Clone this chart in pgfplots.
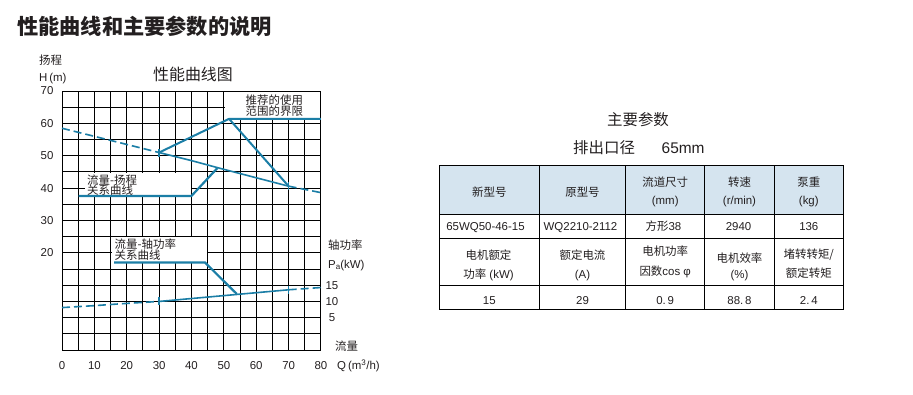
\documentclass[border=0pt]{standalone}
\usepackage{pgfplots}
\pgfplotsset{compat=1.18}
\usepackage{fontspec}
\setmainfont{Liberation Sans}
\newfontfamily\cjk{Noto Sans CJK SC}
\newcommand\zh[1]{{\cjk #1}}
\definecolor{txt}{HTML}{231F20}
\definecolor{lc}{HTML}{1B7EA6}
\definecolor{hdr}{HTML}{D5E4EF}
\begin{document}
\begin{tikzpicture}[x=1bp,y=1bp,
  tt/.style={anchor=base, inner sep=0, font=\fontsize{11.5}{12}\selectfont, text=txt},
  lt/.style={anchor=base west, inner sep=0, font=\fontsize{11.5}{12}\selectfont, text=txt}]
\path[use as bounding box] (0,0) rectangle (913,394);
\coordinate (A) at (62,44);
% ---------------- head axis ----------------
\begin{axis}[at={(A)}, anchor=south west, scale only axis,
  width=259bp, height=259bp,
  xmin=0, xmax=80, ymin=-10, ymax=70,
  xtick={0,10,...,80}, minor xtick={5,15,...,75},
  ytick={-10,0,...,70}, yticklabels={,,,20,30,40,50,60,70},
  minor ytick={-5,5,...,65},
  grid=both, grid style={black, line width=1bp},
  minor grid style={black, line width=1bp},
  major tick length=0, minor tick length=0,
  axis line style={black, line width=1bp},
  /pgf/number format/assume math mode=true,
  tick label style={font=\fontsize{11.5}{12}\selectfont, text=txt},
  xticklabel style={yshift=-8bp},
  yticklabel style={xshift=-5bp},
  clip=false]
% white label boxes
\fill[white] (axis cs:50.4,61.8) rectangle (axis cs:79.8,69.8);
\fill[white] (axis cs:7.2,37.9) rectangle (axis cs:40,44.8);
\fill[white] (axis cs:15.3,17.2) rectangle (axis cs:44.7,24.8);
% head curve
\addplot[lc, line width=1.6bp, dash pattern=on 8bp off 4bp] coordinates {(0,58.5) (10,56.0) (20,53.5) (30,51.0)};
\addplot[lc, line width=1.6bp] coordinates {(30,51.0) (40,48.5) (50,45.8) (60,43.2) (70,40.6)};
\addplot[lc, line width=1.6bp, dash pattern=on 8bp off 4bp] coordinates {(70,40.6) (80,38.6)};
\addplot[lc, only marks, mark=|, mark size=4bp, mark options={line width=1.3bp}] coordinates {(30,51.0) (70,40.6)};
% recommended range
\addplot[lc, line width=2bp] coordinates {(30,51.0) (51.6,61.4) (80,61.4)};
\addplot[lc, line width=2bp] coordinates {(51.6,61.4) (70,40.6)};
% head callout
\addplot[lc, line width=2.2bp] coordinates {(5.1,37.6) (40.0,37.6) (48.0,46.2)};
\end{axis}
% ---------------- power axis ----------------
\begin{axis}[at={(A)}, anchor=south west, scale only axis,
  width=259bp, height=259bp,
  xmin=0, xmax=80, ymin=-5, ymax=75,
  axis x line=none, axis y line*=right,
  y axis line style={draw=none},
  ytick={5,10,15}, major tick length=0,
  /pgf/number format/assume math mode=true,
  yticklabel style={font=\fontsize{11.5}{12}\selectfont, text=txt, anchor=center, xshift=11bp},
  clip=false]
\addplot[lc, line width=1.6bp, dash pattern=on 8bp off 4bp] coordinates {(0,8.1) (10,8.7) (20,9.4) (30,10.0)};
\addplot[lc, line width=1.6bp] coordinates {(30,10.0) (40,10.9) (50,11.8) (60,12.7) (70,13.6)};
\addplot[lc, line width=1.6bp, dash pattern=on 8bp off 4bp] coordinates {(70,13.6) (80,14.3)};
\addplot[lc, only marks, mark=|, mark size=4bp, mark options={line width=1.3bp}] coordinates {(30,10.0) (70,13.6)};
\addplot[lc, line width=2.2bp] coordinates {(16.1,22) (44.2,22) (54,12.3)};
\end{axis}
% ---------------- texts ----------------
\node[anchor=base west, inner sep=0, text=txt, font=\fontsize{21.3}{22}\selectfont] at (17,359.5) {\cjk\bfseries 性能曲线和主要参数的说明};
\node[lt] at (39,330) {\zh{扬程}};
\node[lt] at (39,313) {H\,(m)};
\node[anchor=base, inner sep=0, text=txt, font=\fontsize{16}{16}\selectfont] at (193,313.5) {\zh{性能曲线图}};
\node[lt] at (245.5,290) {\zh{推荐的使用}};
\node[lt] at (245.5,279) {\zh{范围的界限}};
\node[lt] at (87,209.5) {\zh{流量-扬程}};
\node[lt] at (87,199.5) {\zh{关系曲线}};
\node[lt] at (114.5,145.5) {\zh{流量-轴功率}};
\node[lt] at (114.5,135) {\zh{关系曲线}};
\node[lt] at (328,145) {\zh{轴功率}};
\node[lt] at (328,126) {P\raisebox{-1bp}{\fontsize{8}{8}\selectfont a}(kW)};
\node[lt] at (335,44) {\zh{流量}};
\node[lt] at (337,24.5) {Q\,(m\textsuperscript{3}/h)};
% ---------------- table ----------------
\node[anchor=base, inner sep=0, text=txt, font=\fontsize{15.5}{16}\selectfont] at (638,268.5) {\zh{主要参数}};
\node[anchor=base west, inner sep=0, text=txt, font=\fontsize{15.5}{16}\selectfont] at (573,240.5) {\zh{排出口径}};
\node[anchor=base west, inner sep=0, text=txt, font=\fontsize{15.5}{16}\selectfont] at (661.5,240.5) {65mm};
\fill[hdr] (439.3,229) rectangle (843.3,179.7);
\draw[black, line width=1bp] (439.3,229) rectangle (843.3,84.7);
\foreach \yy in {179.7,155.7,108.3} \draw[black, line width=1bp] (439.3,\yy) -- (843.3,\yy);
\foreach \xx in {539.3,625.7,704.7,774.3} \draw[black, line width=1bp] (\xx,229) -- (\xx,84.7);
% header
\node[tt] at (489.3,197.1) {\zh{新型号}};
\node[tt] at (582.5,197.1) {\zh{原型号}};
\node[tt] at (665.2,207.1) {\zh{流道尺寸}};
\node[tt] at (665.2,189.1) {(mm)};
\node[tt] at (739.5,207.1) {\zh{转速}};
\node[tt] at (739.5,189.1) {(r/min)};
\node[tt] at (808.8,207.1) {\zh{泵重}};
\node[tt] at (808.8,189.1) {(kg)};
% row 2
\node[tt] at (485.5,163.1) {65WQ50-46-15};
\node[tt] at (580.5,163.1) {WQ2210-2112};
\node[tt] at (663.5,163.1) {\zh{方形}38};
\node[tt] at (738.5,163.1) {2940};
\node[tt] at (808.8,163.1) {136};
% row 3
\node[tt] at (488.5,134.8) {\zh{电机额定}};
\node[tt] at (488.5,115.8) {\zh{功率} (kW)};
\node[tt] at (582.5,134.8) {\zh{额定电流}};
\node[tt] at (582.5,115.8) {(A)};
\node[tt] at (665.2,138.1) {\zh{电机功率}};
\node[tt] at (665.2,118.1) {\zh{因数}cos φ};
\node[tt] at (739.5,131.8) {\zh{电机效率}};
\node[tt] at (739.5,115.8) {(\%)};
\node[tt] at (808.8,135.8) {\zh{堵转转矩/}};
\node[tt] at (808.8,116.8) {\zh{额定转矩}};
% row 4
\node[tt] at (489.3,89.8) {15};
\node[tt] at (582.5,89.8) {29};
\node[tt] at (665.2,89.8) {0.\,9};
\node[tt] at (739.5,89.8) {88.\,8};
\node[tt] at (808.8,89.8) {2.\,4};
\end{tikzpicture}
\end{document}
